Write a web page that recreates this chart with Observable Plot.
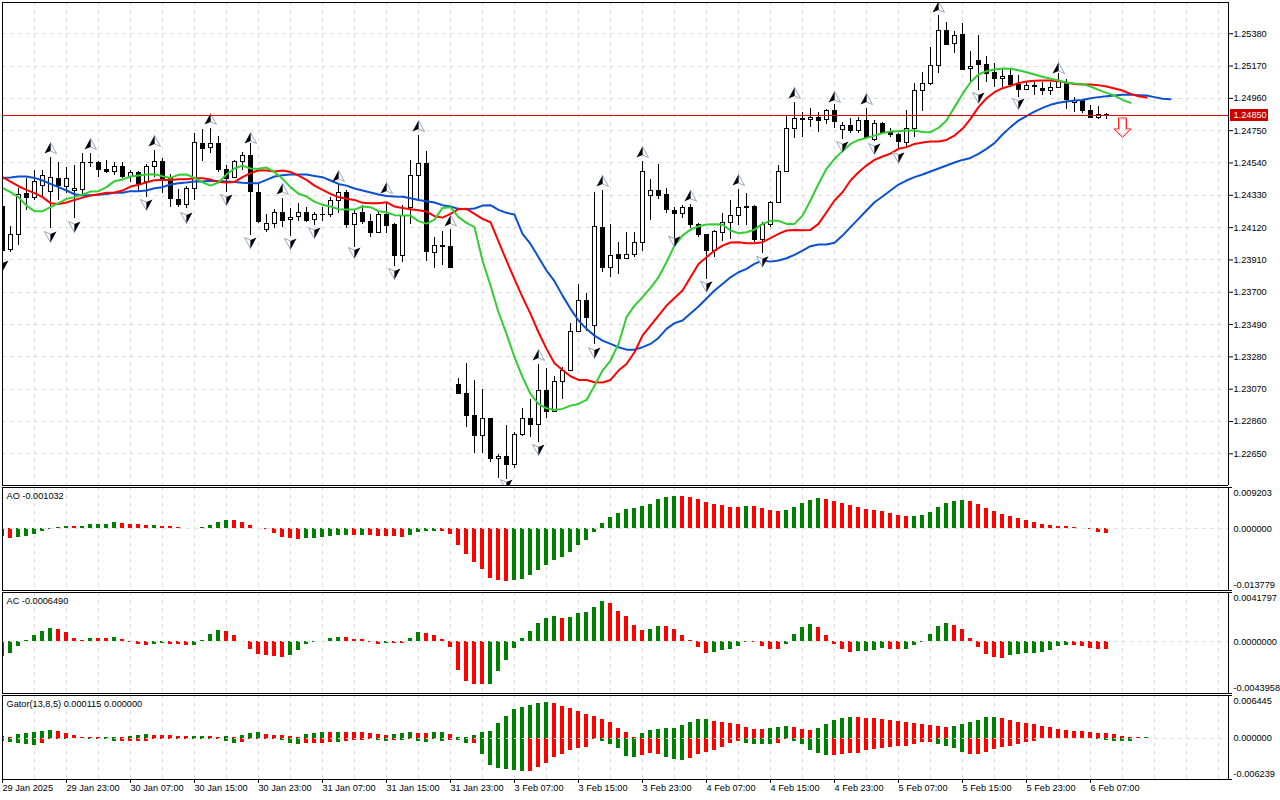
<!DOCTYPE html>
<html><head><meta charset="utf-8">
<script src="https://cdn.jsdelivr.net/npm/d3@7"></script>
<script src="https://cdn.jsdelivr.net/npm/@observablehq/plot@0.6"></script>
<style>
html,body{margin:0;padding:0;background:#fff;color:#000;overflow:hidden}
#c{position:relative;width:1280px;height:800px}
#c svg{position:absolute;left:0;background:transparent}
</style></head><body><div id="c"></div>
<script>
// Prices are in points (1 point = 0.00001); one entry per hourly bar.
const open=[124253,123975,124073,124339,124311,124393,124352,124437,124383,124357,
124367,124541,124543,124495,124480,124517,124448,124476,124415,124515,
124549,124437,124302,124266,124372,124664,124636,124664,124495,124441,
124545,124586,124346,124105,124142,124216,124170,124188,124216,124170,
124199,124201,124294,124346,124138,124216,124157,124086,124203,124138,
123936,124248,124456,124534,123956,124001,123997,123098,123039,122896,
122766,122877,122617,122630,122578,122773,122877,122838,123059,122920,
123117,123189,123442,123644,123479,124119,123859,123939,123915,123943,
124021,124326,124359,124333,124229,124207,124250,124138,124075,123971,
124086,124149,124196,124257,124255,124040,124136,124281,124482,124762,
124829,124820,124835,124818,124879,124753,124783,124747,124814,124692,
124794,124740,124723,124669,124762,125009,125054,125171,125399,125314,
125375,125152,125204,125178,125126,125087,125106,125046,125013,125037,
125024,125009,125028,125061,124933,124946,124877,124831,124850];
const close=[123971,124073,124333,124311,124419,124456,124443,124389,124437,124372,
124541,124543,124493,124480,124515,124452,124476,124404,124517,124547,
124437,124307,124266,124372,124671,124630,124664,124493,124437,124547,
124586,124350,124155,124144,124216,124164,124183,124216,124164,124203,
124203,124292,124344,124138,124209,124155,124084,124203,124131,123936,
124198,124454,124534,123960,124001,123995,123856,123037,122894,122764,
122877,122614,122630,122576,122773,122877,122836,123059,122920,123115,
123187,123442,123642,123531,124121,123856,123937,123915,123943,124021,
124482,124359,124328,124235,124207,124250,124138,124071,123971,124090,
124149,124196,124250,124246,124040,124140,124281,124482,124762,124827,
124818,124833,124812,124879,124805,124779,124747,124814,124703,124794,
124738,124723,124675,124762,125009,125054,125171,125399,125310,125366,
125143,125165,125178,125121,125085,125100,125046,125013,125041,125043,
125009,125028,125065,124950,124946,124877,124831,124853,124852];
const high=[124274,124127,124372,124437,124491,124491,124578,124545,124513,124523,
124599,124599,124550,124556,124545,124545,124491,124484,124530,124621,
124567,124465,124367,124387,124729,124757,124762,124714,124523,124556,
124610,124664,124404,124205,124237,124311,124242,124274,124253,124220,
124253,124318,124404,124361,124231,124261,124203,124220,124274,124144,
124263,124556,124718,124614,124058,124094,124107,123141,123234,123126,
123067,122877,122645,122833,122790,122942,123002,123230,123202,123152,
123208,123494,123750,123689,124348,124361,124140,124021,124086,124086,
124549,124432,124530,124376,124253,124263,124270,124144,124075,124101,
124209,124296,124367,124339,124261,124155,124292,124523,124848,124935,
124866,124892,124866,124887,124920,124805,124827,124838,124892,124816,
124805,124762,124729,124881,125059,125130,125293,125498,125451,125397,
125444,125264,125368,125232,125184,125152,125152,125108,125065,125065,
125065,125065,125119,125080,124968,124950,124913,124907,124859];
const low=[123884,123960,124003,124231,124296,124318,124116,124296,124339,124177,
124328,124513,124448,124469,124458,124437,124415,124350,124313,124448,
124339,124253,124253,124242,124296,124549,124604,124480,124350,124437,
124491,124068,124148,124090,124112,124123,124062,124162,124155,124133,
124162,124188,124209,124116,123993,124140,124053,124084,124084,123869,
123895,124140,124296,123902,123856,123873,123856,123035,122823,122649,
122649,122595,122491,122482,122556,122764,122758,122725,122881,122916,
123005,123187,123440,123447,123360,123828,123798,123815,123912,123924,
123966,124166,124300,124209,124025,124177,124112,124058,123782,123927,
124032,124040,124133,124133,124023,123953,124123,124281,124478,124701,
124708,124773,124740,124788,124766,124692,124734,124734,124690,124679,
124729,124708,124632,124643,124708,124874,125043,125124,125303,125254,
125141,125054,125011,125061,125028,125028,125028,124968,125011,124978,
124978,124978,125022,124887,124870,124864,124829,124820,124822];

// Alligator lines (shifted forward past the last bar).
const lips=[124378,124350,124318,124263,124227,124227,124253,124279,124307,124318,
124335,124354,124357,124383,124422,124432,124452,124458,124465,124467,
124454,124443,124463,124465,124443,124415,124393,124413,124465,124504,
124523,124504,124502,124510,124480,124437,124383,124341,124322,124289,
124268,124257,124240,124237,124237,124257,124253,124227,124220,124201,
124198,124198,124162,124146,124172,124248,124253,124188,124151,124123,
123906,123744,123570,123429,123278,123148,123039,122974,122946,122935,
122942,122963,122974,123000,123093,123191,123256,123364,123538,123613,
123668,123728,123797,123895,124003,124068,124107,124129,124140,124142,
124140,124101,124084,124090,124107,124144,124164,124164,124144,124144,
124198,124296,124404,124502,124567,124617,124664,124690,124703,124718,
124734,124744,124747,124751,124751,124742,124740,124768,124816,124903,
124989,125065,125115,125137,125147,125154,125152,125143,125130,125115,
125100,125087,125076,125061,125056,125054,125037,125015,124996,124978,
124950,124931];
const teeth=[124448,124419,124389,124365,124344,124318,124279,124274,124283,124300,
124315,124328,124337,124346,124348,124361,124387,124398,124415,124428,
124430,124430,124435,124435,124441,124441,124432,124417,124413,124417,
124448,124474,124493,124491,124484,124491,124482,124458,124430,124393,
124365,124339,124318,124307,124300,124281,124279,124279,124285,124257,
124248,124240,124233,124224,124194,124185,124209,124240,124242,124209,
124177,124155,124030,123905,123785,123668,123559,123440,123332,123239,
123195,123154,123130,123130,123115,123113,123130,123191,123234,123310,
123418,123483,123548,123613,123663,123711,123797,123884,123927,123971,
124003,124023,124025,124019,124019,124025,124051,124079,124101,124105,
124103,124105,124144,124220,124296,124350,124426,124480,124523,124560,
124582,124601,124632,124643,124664,124673,124679,124679,124690,124718,
124762,124827,124903,124961,125000,125026,125041,125059,125069,125074,
125076,125076,125072,125063,125054,125050,125050,125046,125037,125024,
125011,124989,124974,124965];
const jaw=[124443,124445,124452,124452,124443,124426,124404,124383,124361,124337,
124328,124331,124333,124339,124346,124346,124357,124357,124361,124376,
124383,124400,124409,124413,124419,124419,124424,124422,124419,124417,
124411,124409,124409,124430,124452,124461,124465,124465,124465,124456,
124448,124426,124404,124393,124374,124361,124348,124335,124326,124322,
124320,124311,124300,124292,124283,124266,124257,124242,124240,124244,
124263,124266,124235,124216,124205,124079,124014,123928,123841,123772,
123678,123592,123516,123462,123418,123386,123364,123343,123327,123327,
123343,123364,123403,123462,123499,123516,123562,123607,123659,123711,
123754,123797,123830,123852,123884,123906,123899,123906,123921,123943,
123971,123999,124010,124010,124021,124068,124123,124177,124231,124285,
124322,124361,124400,124426,124448,124465,124485,124504,124524,124543,
124560,124573,124599,124632,124669,124725,124773,124816,124844,124874,
124898,124918,124931,124939,124946,124950,124961,124968,124974,124978,
124983,124985,124981,124978,124968,124957,124955];

// Fractals: bar index and the price level of the marker.
const fractalUpBar=[6,11,19,26,31,35,42,48,52,56,67,75,80,86,92,99,104,108,117,132];
const fractalUpPrice=[124634,124660,124680,124823,124699,124368,124452,124374,124777,124162,123289,124420,124608,124324,124426,124992,124966,124953,125551,125154];
const fractalDownBar=[0,6,9,18,23,28,31,36,39,44,49,63,67,74,84,88,95,105,109,112,122,127];
const fractalDownPrice=[123874,124062,124127,124270,124186,124303,124023,124017,124088,123958,123822,122450,122678,123308,124032,123739,123902,124647,124634,124578,124966,124927];

// Oscillators, in millionths.
const ao=[-1725,-2175,-1950,-1725,-1275,-600,-75,225,450,450,
450,900,900,900,1350,1125,900,900,675,675,
450,450,225,75,75,225,825,1350,1800,1800,
1350,675,75,-225,-975,-1875,-2175,-2325,-2100,-2100,
-1875,-1650,-1425,-1425,-1425,-1425,-1425,-1650,-1650,-1650,
-1875,-1425,-750,-600,-600,-600,-1275,-3750,-5775,-7575,
-9150,-11175,-11625,-11850,-11625,-11400,-10500,-9375,-8250,-7125,
-6450,-5325,-3750,-2550,-750,1125,2475,3375,4275,4500,
4950,5400,6525,6975,7200,7200,6975,6525,5850,5400,
5175,4725,4725,4950,4950,4500,4050,3825,4050,4725,
5625,6300,6750,6525,6075,5625,5175,4725,4275,4050,
3825,3375,2925,2700,2700,2925,3600,4725,5625,6075,
6300,6075,5400,4500,3825,3150,2700,2250,1800,1350,
900,675,450,450,225,75,-225,-825,-1032];
const aoRuns="R2 G7 R1 G5 R4 G1 R5 G4 R9 G6 R1 G1 R5 G4 R9 G21 R8 G1 R4 G5 R11 G7 R18";
const ac=[-1254,-998,-399,86,542,884,1140,1055,798,285,
86,285,285,285,371,200,-29,-228,-314,-228,
-114,-228,-228,-314,-314,86,627,969,884,542,
29,-656,-1083,-1169,-1254,-1340,-1169,-741,-228,-29,
57,285,371,371,200,200,-29,-228,-143,-143,
-114,285,798,713,542,200,-485,-2451,-3392,-3648,
-3648,-3648,-2537,-1596,-570,285,884,1568,1995,2166,
1995,2081,2423,2508,2936,3420,3249,2594,2166,1397,
969,1055,1311,1311,1055,542,86,-485,-998,-912,
-741,-656,-399,-57,-29,-399,-656,-656,-228,599,
1197,1482,1226,542,-228,-656,-912,-827,-827,-741,
-570,-656,-656,-656,-285,-29,599,1311,1568,1397,
1055,257,-485,-1083,-1340,-1425,-1169,-1083,-998,-969,
-912,-741,-399,-285,-285,-399,-570,-656,-649];
const acRuns="R1 G6 R4 G1 R2 G1 R4 G2 R3 G4 R8 G7 R5 G1 R2 G2 R8 G9 R1 G5 R5 G2 R6 G5 R4 G4 R5 G4 R2 G6 R7 G8 R5";
const gatorUp=[252,151,604,755,905,1056,1207,1056,755,453,
151,151,151,151,151,151,302,453,604,453,
453,453,302,302,302,252,302,151,252,151,
453,755,905,604,453,453,302,151,604,755,
905,905,905,905,905,905,755,604,453,604,
755,905,755,755,905,905,604,151,151,453,
905,1056,2264,3320,4376,4678,4980,5282,5432,5282,
4829,4527,4074,3622,3320,2867,2414,1509,905,151,
755,1207,1358,1509,1509,1962,2414,2867,2867,2565,
2414,2264,2113,1660,1358,1358,1509,1660,1811,1660,
1358,1207,1509,2113,2716,3018,3169,3169,3018,3018,
2867,2716,2565,2414,2264,2113,1962,1811,1660,1811,
2113,2414,2716,3169,3169,3018,2716,2414,2264,2113,
1811,1660,1358,1207,1056,1056,905,755,755,604,
302,151,50,151];
const gatorUpRuns="R2 G5 R6 G2 R1 G3 R5 G2 R2 G1 R1 G3 R5 G3 R1 G1 R6 G3 R2 G2 R1 G12 R11 G9 R7 G3 R3 G5 R12 G6 R18 G1";
const gatorDown=[-553,-704,-855,-1006,-1157,-855,-252,-151,-151,-101,
-101,-252,-151,-201,-553,-553,-553,-553,-453,-252,
-151,-151,-252,-252,-252,-252,-252,-151,-553,-855,
-704,-151,-151,-252,-252,-402,-855,-1006,-855,-855,
-855,-704,-704,-553,-402,-402,-252,-402,-553,-402,
-402,-252,-553,-704,-252,-553,-402,-402,-855,-855,
-2515,-4175,-4527,-4728,-4879,-5080,-4980,-4376,-3772,-2968,
-2414,-1811,-1509,-1358,-252,-553,-1006,-1610,-2716,-2867,
-2565,-2364,-2414,-2867,-3169,-3320,-3018,-2414,-2113,-1811,
-1358,-755,-453,-755,-905,-1006,-1006,-755,-252,-453,
-1006,-1811,-2364,-2565,-2565,-2414,-2314,-2264,-1811,-1660,
-1509,-1358,-1207,-1207,-1006,-604,-604,-905,-1207,-1509,
-2113,-2414,-2414,-2113,-1660,-1358,-1207,-905,-604,-503,
-50,-50,-50,-50,-50,-101,-101,-252,-352,-453,
-553,-553,-50,-101];
const gatorDownRuns="G5 R3 G1 R2 G1 R1 G2 R7 G1 R1 G3 R1 G2 R5 G3 R4 G1 R4 G2 R1 G1 R1 G2 R1 G1 R1 G2 R1 G6 R9 G5 R3 G3 R7 G4 R2 G5 R13 G4 R13 G9 R1";

const priceTicks=[125380,125170,124960,124750,124540,124330,124120,123910,123700,123490,123280,123070,122860,122650];
const bidPrice=124850;
const sellBar=140, sellPrice=124771;
const timeLabels=["29 Jan 2025","29 Jan 23:00","30 Jan 07:00","30 Jan 15:00","30 Jan 23:00","31 Jan 07:00","31 Jan 15:00","31 Jan 23:00","3 Feb 07:00","3 Feb 15:00","3 Feb 23:00","4 Feb 07:00","4 Feb 15:00","4 Feb 23:00","5 Feb 07:00","5 Feb 15:00","5 Feb 23:00","6 Feb 07:00"];

const RED="#ff0000",GREEN="#008000",GRID="#dedede";
const XMAX=153.25;
const FONT='"Liberation Sans",Arial,sans-serif';
const style={fontFamily:FONT,fontSize:"9.2px",background:"transparent",color:"#000"};
const decode=r=>r.split(" ").flatMap(s=>Array(+s.slice(1)).fill(s[0]==="R"?RED:GREEN));
const gridBars=d3.range(0,Math.floor(XMAX)+1,4);
const vGrid=()=>Plot.ruleX(gridBars,{x:d=>d,stroke:GRID,strokeDasharray:"4,4",shapeRendering:"crispEdges"});
const frame=(dom)=>[Plot.ruleX([0,XMAX],{x:d=>d,stroke:"#000",shapeRendering:"crispEdges"}),Plot.ruleY(dom,{y:d=>d,stroke:"#000",shapeRendering:"crispEdges"})];

function poly(pts){return {draw(c){pts.forEach((p,i)=>i?c.lineTo(p[0],p[1]):c.moveTo(p[0],p[1]));c.closePath();}};}
const upDark=poly([[0,-6],[-6,5],[0,2.5]]), upLight=poly([[0,-6],[6,5],[0,2.5]]);
const dnDark=poly([[0,6],[6,-5],[0,-2.5]]), dnLight=poly([[0,6],[-6,-5],[0,-2.5]]);
const sellOuter=poly([[-4,-9.5],[4,-9.5],[4,1.5],[8.5,1.5],[0,10],[-8.5,1.5],[-4,1.5]]);
const sellInner=poly([[-3,-8.5],[3,-8.5],[3,2.5],[6,2.5],[0,8.5],[-6,2.5],[-3,2.5]]);

const mount=(svg,top)=>{svg.style.top=top+"px";document.getElementById("c").appendChild(svg);};

// main price panel
const bars=open.map((o,i)=>({i,o,c:close[i],h:high[i],l:low[i]}));
const lineOf=a=>a.map((v,i)=>({i,v}));
const fu=fractalUpBar.map((i,k)=>({i,v:fractalUpPrice[k]}));
const fd=fractalDownBar.map((i,k)=>({i,v:fractalDownPrice[k]}));
const mainDomain=[122444,125583];
const up=Plot.plot({width:1280,height:487,marginTop:2,marginBottom:2,marginLeft:2,marginRight:52,style,
 x:{domain:[0,XMAX],axis:null},y:{domain:mainDomain,label:null},
 marks:[
  Plot.ruleY(priceTicks,{y:d=>d,stroke:GRID,strokeDasharray:"4,4",shapeRendering:"crispEdges"}),
  vGrid(),
  Plot.ruleX(bars,{x:"i",y1:"l",y2:"h",stroke:"#000",clip:true,shapeRendering:"crispEdges"}),
  Plot.rect(bars,{x1:d=>d.i-.25,x2:d=>d.i+.25,y1:"o",y2:"c",dx:.5,fill:d=>d.c>=d.o?"#fff":"#000",stroke:"#000",clip:true,shapeRendering:"crispEdges"}),
  Plot.line(lineOf(jaw),{x:"i",y:"v",stroke:"#0a50d0",strokeWidth:2,clip:true}),
  Plot.line(lineOf(teeth),{x:"i",y:"v",stroke:"#ff0000",strokeWidth:2,clip:true}),
  Plot.line(lineOf(lips),{x:"i",y:"v",stroke:"#32cd32",strokeWidth:2,clip:true}),
  Plot.dot(fu,{x:"i",y:"v",symbol:upLight,fill:"#fff",stroke:"#97a6bf",strokeWidth:1,clip:true}),
  Plot.dot(fu,{x:"i",y:"v",symbol:upDark,fill:"#000",clip:true}),
  Plot.dot(fd,{x:"i",y:"v",symbol:dnLight,fill:"#fff",stroke:"#97a6bf",strokeWidth:1,clip:true}),
  Plot.dot(fd,{x:"i",y:"v",symbol:dnDark,fill:"#000",clip:true}),
  Plot.dot([{i:sellBar,v:sellPrice}],{x:"i",y:"v",symbol:sellOuter,fill:"#fff",stroke:"#ff2020",strokeWidth:1}),
  Plot.dot([{i:sellBar,v:sellPrice}],{x:"i",y:"v",symbol:sellInner,fill:"#fff",stroke:"#ffb4b4",strokeWidth:1}),
  frame(mainDomain),
  Plot.axisY({anchor:"right",ticks:priceTicks,tickSize:4,tickPadding:1,label:null,tickFormat:v=>(v/1e5).toFixed(5)}),
  Plot.rect([bidPrice],{x1:153.5,x2:158.25,y1:d=>d-39,y2:d=>d+39,fill:"#c80000",shapeRendering:"crispEdges"}),
  Plot.text([bidPrice],{y:d=>d,frameAnchor:"right",dx:5,textAnchor:"start",text:d=>(d/1e5).toFixed(5),fill:"#fff"})
 ]});
mount(up,0);

// bid line, on its own layer over the price panel
const bidLayer=Plot.plot({width:1280,height:487,marginTop:2,marginBottom:2,marginLeft:2,marginRight:52,
 x:{domain:[0,XMAX],axis:null},y:{domain:mainDomain,label:null,axis:null},
 marks:[Plot.ruleY([bidPrice],{y:d=>d,stroke:"#e00000",shapeRendering:"crispEdges"})]});
mount(bidLayer,0);

// oscillator panels
function panel(opts){
 const {top,height,mb,domain,series,labelTxt,fmt,bottomAxis}=opts;
 const marks=[vGrid()];
 for(const s of series){
  const cols=decode(s.runs);
  const rows=s.values.map((v,i)=>({i,v,col:cols[i]}));
  marks.push(Plot.rect(rows,{x1:d=>d.i-.25,x2:d=>d.i+.25,y1:()=>0,y2:d=>d.v/1e6,fill:"col",clip:true,shapeRendering:"crispEdges"}));
 }
 marks.push(Plot.ruleY([0],{stroke:GRID,strokeDasharray:"4,4",shapeRendering:"crispEdges"}));
 marks.push(frame(domain));
 marks.push(Plot.ruleY(domain,{y:d=>d,x1:XMAX,x2:XMAX+.5,stroke:"#000",shapeRendering:"crispEdges"}));
 const tx=[{v:domain[1],dy:5.5},{v:0,dy:0},{v:domain[0],dy:-5.5}];
 for(const t of tx) marks.push(Plot.text([t.v],{y:d=>d,frameAnchor:"right",dx:5,dy:t.dy,textAnchor:"start",text:d=>d.toFixed(fmt)}));
 marks.push(Plot.text([labelTxt],{frameAnchor:"top-left",dx:4,dy:5,textAnchor:"start",text:d=>d}));
 if(bottomAxis) marks.push(Plot.axisX({anchor:"bottom",ticks:timeLabels.map((_,k)=>k*8),tickSize:4,tickPadding:1,textAnchor:"start",label:null,tickFormat:i=>timeLabels[i/8]}));
 const svg=Plot.plot({width:1280,height,marginTop:1,marginBottom:mb,marginLeft:2,marginRight:52,style,
  x:{domain:[0,XMAX],axis:bottomAxis?undefined:null},y:{domain,label:null,axis:null},color:{type:"identity"},marks});
 mount(svg,top);
}
panel({top:486,height:106,mb:2,domain:[-0.013779,0.009203],fmt:6,labelTxt:"AO -0.001032",series:[{values:ao,runs:aoRuns}]});
panel({top:591,height:104,mb:2,domain:[-0.0043958,0.0041797],fmt:7,labelTxt:"AC -0.0006490",series:[{values:ac,runs:acRuns}]});
panel({top:694,height:106,mb:21,domain:[-0.006239,0.006445],fmt:6,labelTxt:"Gator(13,8,5) 0.000115 0.000000",bottomAxis:true,
 series:[{values:gatorUp,runs:gatorUpRuns},{values:gatorDown,runs:gatorDownRuns}]});
</script></body></html>
